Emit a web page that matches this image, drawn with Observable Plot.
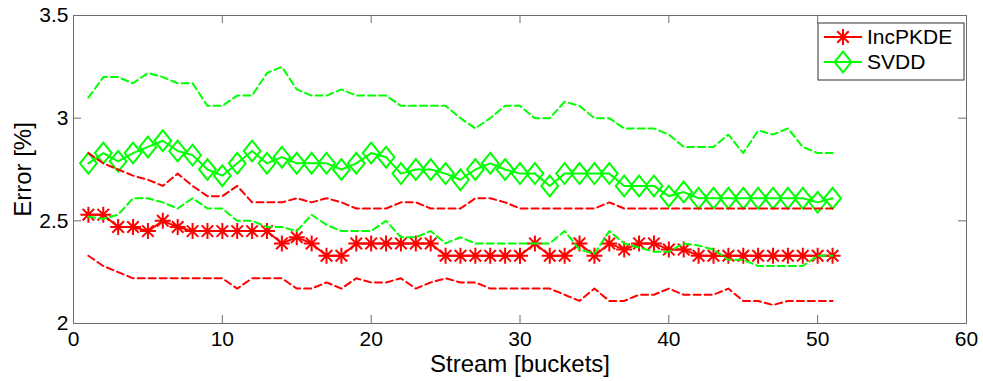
<!DOCTYPE html>
<html>
<head>
<meta charset="utf-8">
<script src="https://cdn.jsdelivr.net/npm/d3@7"></script>
<script src="https://cdn.jsdelivr.net/npm/@observablehq/plot@0.6"></script>
<style>
  html, body { margin: 0; padding: 0; background: #ffffff; }
  #chart svg { display: block; }
</style>
</head>
<body>
<div id="chart"></div>
<script>
// Stream position (bucket index)
const buckets = [1, 2, 3, 4, 5, 6, 7, 8, 9, 10, 11, 12, 13, 14, 15, 16, 17, 18, 19, 20,
  21, 22, 23, 24, 25, 26, 27, 28, 29, 30, 31, 32, 33, 34, 35, 36, 37, 38, 39, 40,
  41, 42, 43, 44, 45, 46, 47, 48, 49, 50, 51];

// IncPKDE: mean error and its upper / lower band
const incMean = [2.53, 2.53, 2.47, 2.47, 2.45, 2.50, 2.47, 2.45, 2.45, 2.45, 2.45, 2.45, 2.45, 2.39, 2.42, 2.39, 2.33, 2.33, 2.39, 2.39,
  2.39, 2.39, 2.39, 2.39, 2.33, 2.33, 2.33, 2.33, 2.33, 2.33, 2.39, 2.33, 2.33, 2.39, 2.33, 2.39, 2.36, 2.39, 2.39, 2.36,
  2.36, 2.33, 2.33, 2.33, 2.33, 2.33, 2.33, 2.33, 2.33, 2.33, 2.33];
const incUpper = [2.83, 2.78, 2.75, 2.72, 2.70, 2.67, 2.73, 2.67, 2.62, 2.62, 2.67, 2.59, 2.59, 2.59, 2.61, 2.59, 2.61, 2.59, 2.56, 2.56,
  2.56, 2.59, 2.59, 2.56, 2.56, 2.56, 2.61, 2.61, 2.59, 2.56, 2.56, 2.56, 2.56, 2.56, 2.56, 2.59, 2.56, 2.56, 2.56, 2.56,
  2.56, 2.56, 2.56, 2.56, 2.56, 2.56, 2.56, 2.56, 2.56, 2.56, 2.56];
const incLower = [2.33, 2.28, 2.25, 2.22, 2.22, 2.22, 2.22, 2.22, 2.22, 2.22, 2.17, 2.22, 2.22, 2.22, 2.17, 2.17, 2.20, 2.17, 2.22, 2.20,
  2.20, 2.22, 2.17, 2.20, 2.22, 2.20, 2.20, 2.17, 2.17, 2.17, 2.17, 2.17, 2.14, 2.11, 2.17, 2.11, 2.11, 2.14, 2.14, 2.17,
  2.14, 2.14, 2.14, 2.17, 2.11, 2.11, 2.09, 2.11, 2.11, 2.11, 2.11];

// SVDD: mean error and its upper / lower band
const svddMean = [2.78, 2.83, 2.79, 2.83, 2.86, 2.89, 2.84, 2.82, 2.75, 2.72, 2.78, 2.84, 2.78, 2.81, 2.78, 2.78, 2.78, 2.75, 2.78, 2.83,
  2.81, 2.73, 2.75, 2.75, 2.73, 2.70, 2.75, 2.78, 2.75, 2.73, 2.73, 2.67, 2.73, 2.73, 2.73, 2.73, 2.67, 2.67, 2.67, 2.62,
  2.64, 2.61, 2.61, 2.61, 2.61, 2.61, 2.61, 2.61, 2.61, 2.59, 2.61];
const svddUpper = [3.10, 3.20, 3.20, 3.17, 3.22, 3.20, 3.17, 3.17, 3.06, 3.06, 3.11, 3.11, 3.22, 3.25, 3.14, 3.11, 3.11, 3.14, 3.11, 3.11,
  3.11, 3.06, 3.06, 3.06, 3.06, 3.00, 2.95, 3.00, 3.06, 3.06, 3.00, 3.00, 3.08, 3.06, 3.00, 3.00, 2.95, 2.95, 2.95, 2.92,
  2.86, 2.86, 2.86, 2.92, 2.83, 2.94, 2.92, 2.95, 2.86, 2.83, 2.83];
const svddLower = [2.52, 2.51, 2.53, 2.61, 2.61, 2.59, 2.56, 2.61, 2.56, 2.56, 2.50, 2.50, 2.47, 2.47, 2.45, 2.53, 2.48, 2.45, 2.45, 2.45,
  2.50, 2.42, 2.42, 2.45, 2.39, 2.42, 2.39, 2.39, 2.39, 2.39, 2.39, 2.39, 2.45, 2.36, 2.34, 2.45, 2.39, 2.37, 2.35, 2.35,
  2.39, 2.38, 2.36, 2.31, 2.31, 2.28, 2.28, 2.28, 2.28, 2.33, 2.33];

const seriesNames = ["IncPKDE", "SVDD"];
const seriesColors = ["#ff0000", "#00ff00"];

const xTicks = [0, 10, 20, 30, 40, 50, 60];
const yTicks = [2, 2.5, 3, 3.5];

const rows = buckets.map((b, i) => ({
  bucket: b,
  incMean: incMean[i], incUpper: incUpper[i], incLower: incLower[i],
  svddMean: svddMean[i], svddUpper: svddUpper[i], svddLower: svddLower[i]
}));

// Marker shapes: an eight-armed asterisk and a tall diamond
const asterisk = {
  draw(ctx, size) {
    const r = Math.sqrt(size / Math.PI);
    const d = r * 0.72;
    ctx.moveTo(0, -r); ctx.lineTo(0, r);
    ctx.moveTo(-r, 0); ctx.lineTo(r, 0);
    ctx.moveTo(-d, -d); ctx.lineTo(d, d);
    ctx.moveTo(-d, d); ctx.lineTo(d, -d);
  }
};
const diamond = {
  draw(ctx, size) {
    const r = Math.sqrt(size / Math.PI);
    const hw = r * 1.05, hh = r * 1.3;
    ctx.moveTo(0, -hh); ctx.lineTo(hw, 0); ctx.lineTo(0, hh); ctx.lineTo(-hw, 0); ctx.closePath();
  }
};

const W = 983, H = 381;
const margin = {top: 15, right: 17, bottom: 58, left: 73};
const plotW = W - margin.left - margin.right;
const plotH = H - margin.top - margin.bottom;
const tickLen = 8;
const axisColor = "#6e6e6e";
const font = "'Liberation Sans', Arial, Helvetica, sans-serif";

const dashed = {strokeWidth: 2, strokeDasharray: "7,4"};
const solid = {strokeWidth: 2};

const chart = Plot.plot({
  width: W,
  height: H,
  marginTop: margin.top,
  marginRight: margin.right,
  marginBottom: margin.bottom,
  marginLeft: margin.left,
  style: {fontFamily: font, fontSize: "21px", color: "#000", background: "#fff"},
  x: {domain: [0, 60]},
  y: {domain: [2, 3.5]},
  marks: [
    // inward tick marks on all four sides
    Plot.tickX(xTicks, {x: d => d, insetTop: plotH - tickLen, stroke: axisColor}),
    Plot.tickX(xTicks, {x: d => d, insetBottom: plotH - tickLen, stroke: axisColor}),
    Plot.tickY(yTicks, {y: d => d, insetRight: plotW - tickLen, stroke: axisColor}),
    Plot.tickY(yTicks, {y: d => d, insetLeft: plotW - tickLen, stroke: axisColor}),
    Plot.axisX(xTicks, {tickSize: 0, tickPadding: 8, tickFormat: d => String(d), label: null, fontSize: 21}),
    Plot.axisY(yTicks, {tickSize: 0, tickPadding: 5, tickFormat: d => String(d), label: null, fontSize: 21}),
    Plot.frame({stroke: axisColor}),

    // mean curves with markers
    Plot.line(rows, {x: "bucket", y: "incMean", stroke: seriesColors[0], ...solid}),
    Plot.dot(rows, {x: "bucket", y: "incMean", symbol: asterisk, r: 8, stroke: seriesColors[0], fill: "none", strokeWidth: 2}),
    Plot.line(rows, {x: "bucket", y: "svddMean", stroke: seriesColors[1], ...solid}),
    Plot.dot(rows, {x: "bucket", y: "svddMean", symbol: diamond, r: 8, stroke: seriesColors[1], fill: "none", strokeWidth: 2}),

    // dashed bands
    Plot.line(rows, {x: "bucket", y: "incUpper", stroke: seriesColors[0], ...dashed}),
    Plot.line(rows, {x: "bucket", y: "incLower", stroke: seriesColors[0], ...dashed}),
    Plot.line(rows, {x: "bucket", y: "svddUpper", stroke: seriesColors[1], ...dashed}),
    Plot.line(rows, {x: "bucket", y: "svddLower", stroke: seriesColors[1], ...dashed}),

    // axis titles
    Plot.text(["Stream [buckets]"], {frameAnchor: "bottom", lineAnchor: "middle", textAnchor: "middle", dy: 41, fontSize: 24, fill: "#000"}),
    Plot.text(["Error [%]"], {frameAnchor: "left", lineAnchor: "middle", textAnchor: "middle", dx: -50, rotate: -90, fontSize: 24, fill: "#000"})
  ]
});

// legend box in the upper-right corner of the axes
const svg = d3.select(chart);
const lg = svg.append("g").attr("class", "legend");
const box = {x: 818, y: 23, w: 146, h: 57};
lg.append("rect")
  .attr("x", box.x).attr("y", box.y).attr("width", box.w).attr("height", box.h)
  .attr("fill", "#fff").attr("stroke", "#333").attr("stroke-width", 1);
const symbols = [asterisk, diamond];
seriesNames.forEach((name, i) => {
  const cy = box.y + 14 + i * 25;
  lg.append("line")
    .attr("x1", box.x + 6).attr("x2", box.x + 44).attr("y1", cy).attr("y2", cy)
    .attr("stroke", seriesColors[i]).attr("stroke-width", 2);
  const p = d3.path();
  symbols[i].draw(p, 8 * 8 * Math.PI);
  lg.append("path")
    .attr("transform", `translate(${box.x + 25},${cy})`)
    .attr("d", p.toString())
    .attr("fill", "none").attr("stroke", seriesColors[i]).attr("stroke-width", 2);
  lg.append("text")
    .attr("x", box.x + 49).attr("y", cy).attr("dy", "0.35em")
    .attr("text-anchor", "start")
    .attr("font-family", font).attr("font-size", 21).attr("fill", "#000")
    .text(name);
});

document.getElementById("chart").append(chart);
</script>
</body>
</html>
